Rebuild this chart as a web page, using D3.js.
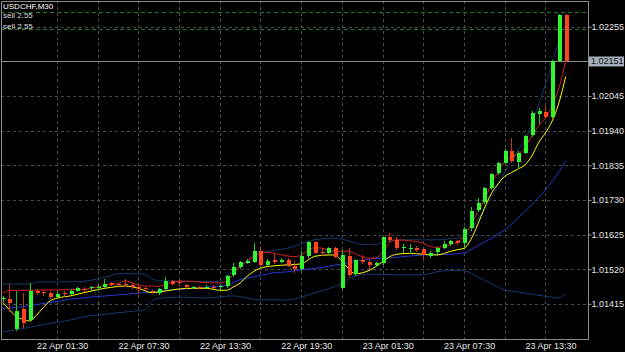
<!DOCTYPE html>
<html>
<head>
<meta charset="utf-8">
<script src="https://cdn.jsdelivr.net/npm/d3@7"></script>
<style>
body { margin: 0; background: #000; }
svg { display: block; background: #000; }
text { font-family: "Liberation Sans", Arial, sans-serif; }
</style>
</head>
<body>
<svg id="chart" width="625" height="352"></svg>
<script>
// USDCHF M30, bar 0 = 21 Apr 23:00
var symbol = "USDCHF,M30";
var firstBar = "2019-04-21T23:00:00Z";

var opens = [1.01429,1.01430,1.01338,1.01399,1.01366,1.01455,1.01451,1.01449,1.01435,1.01448,
1.01446,1.01455,1.01461,1.01462,1.01464,1.01467,1.01479,1.01475,1.01476,1.01473,
1.01465,1.01463,1.01454,1.01447,1.01460,1.01485,1.01480,1.01472,1.01464,1.01467,
1.01465,1.01467,1.01465,1.01469,1.01501,1.01526,1.01540,1.01543,1.01575,1.01532,
1.01549,1.01543,1.01549,1.01531,1.01520,1.01560,1.01601,1.01573,1.01570,1.01585,
1.01464,1.01560,1.01505,1.01548,1.01543,1.01533,1.01538,1.01616,1.01607,1.01584,
1.01582,1.01585,1.01581,1.01560,1.01571,1.01585,1.01596,1.01604,1.01599,1.01644,
1.01698,1.01725,1.01765,1.01811,1.01843,1.01879,1.01846,1.01873,1.01927,1.01991,
1.01996,1.01982,1.02151,1.02291];
var highs = [1.01439,1.01475,1.01454,1.01448,1.01479,1.01460,1.01457,1.01455,1.01452,1.01453,
1.01459,1.01466,1.01466,1.01469,1.01471,1.01490,1.01482,1.01479,1.01490,1.01477,
1.01469,1.01467,1.01457,1.01463,1.01496,1.01488,1.01488,1.01475,1.01469,1.01469,
1.01471,1.01471,1.01472,1.01503,1.01540,1.01545,1.01550,1.01599,1.01591,1.01550,
1.01570,1.01553,1.01553,1.01544,1.01575,1.01604,1.01604,1.01584,1.01588,1.01588,
1.01579,1.01584,1.01551,1.01563,1.01547,1.01541,1.01619,1.01629,1.01619,1.01596,
1.01596,1.01589,1.01583,1.01574,1.01586,1.01606,1.01609,1.01607,1.01649,1.01708,
1.01735,1.01769,1.01812,1.01845,1.01883,1.01917,1.01877,1.01928,1.02000,1.02008,
1.02018,1.02154,1.02292,1.02292];
var lows = [1.01424,1.01392,1.01336,1.01345,1.01363,1.01445,1.01442,1.01432,1.01433,1.01439,
1.01444,1.01453,1.01454,1.01457,1.01460,1.01465,1.01471,1.01469,1.01469,1.01463,
1.01449,1.01456,1.01448,1.01445,1.01459,1.01474,1.01472,1.01463,1.01462,1.01462,
1.01462,1.01463,1.01460,1.01466,1.01498,1.01524,1.01538,1.01542,1.01530,1.01530,
1.01538,1.01541,1.01529,1.01512,1.01518,1.01557,1.01568,1.01563,1.01568,1.01556,
1.01462,1.01498,1.01503,1.01538,1.01523,1.01530,1.01536,1.01604,1.01581,1.01573,
1.01568,1.01575,1.01554,1.01558,1.01569,1.01583,1.01594,1.01597,1.01589,1.01639,
1.01695,1.01722,1.01763,1.01809,1.01841,1.01845,1.01826,1.01871,1.01924,1.01962,
1.01978,1.01981,1.02150,1.02150];
var closes = [1.01434,1.01417,1.01394,1.01356,1.01454,1.01449,1.01448,1.01435,1.01446,1.01445,
1.01455,1.01463,1.01459,1.01465,1.01467,1.01476,1.01473,1.01472,1.01472,1.01466,
1.01459,1.01459,1.01451,1.01459,1.01485,1.01476,1.01477,1.01465,1.01467,1.01464,
1.01467,1.01466,1.01468,1.01500,1.01528,1.01541,1.01545,1.01575,1.01533,1.01546,
1.01543,1.01549,1.01531,1.01520,1.01560,1.01601,1.01570,1.01568,1.01585,1.01558,
1.01563,1.01503,1.01548,1.01543,1.01533,1.01538,1.01616,1.01607,1.01584,1.01587,
1.01585,1.01578,1.01563,1.01570,1.01584,1.01596,1.01604,1.01599,1.01641,1.01697,
1.01722,1.01765,1.01809,1.01841,1.01879,1.01848,1.01873,1.01924,1.01993,1.01998,
1.01982,1.02151,1.02291,1.02151];

// indicator lines, [bar, price]
var maSlow = [[0,1.01419],[1,1.01397],[2,1.01376],[3,1.01368],[4,1.01363],[5,1.01381],[6,1.01404],[7,1.01424],
[8,1.01432],[10,1.01439],[12,1.01449],[14,1.01458],[16,1.01465],[18,1.01469],[20,1.01462],[22,1.01449],
[24,1.01454],[26,1.01460],[28,1.01462],[30,1.01462],[32,1.01456],[33,1.01456],[34,1.01466],[35,1.01478],
[36,1.01498],[37,1.01513],[38,1.01523],[40,1.01530],[42,1.01533],[44,1.01536],[46,1.01559],[48,1.01563],
[49,1.01563],[50,1.01544],[51,1.01521],[52,1.01506],[54,1.01516],[56,1.01542],[57,1.01557],[58,1.01565],
[60,1.01568],[62,1.01565],[64,1.01563],[66,1.01574],[67,1.01579],[68,1.01583],[69,1.01609],[70,1.01654],
[71,1.01704],[72,1.01748],[73,1.01778],[74,1.01801],[75,1.01813],[76,1.01824],[77,1.01836],[78,1.01863],
[79,1.01903],[80,1.01933],[81,1.01969],[82,1.02024],[83,1.02104]];
var maFast = [[0,1.01447],[1,1.01455],[2,1.01456],[4,1.01456],[6,1.01457],[8,1.01457],[10,1.01458],[12,1.01459],
[14,1.01466],[16,1.01474],[17,1.01476],[18,1.01485],[19,1.01479],[20,1.01472],[21,1.01469],[22,1.01469],
[23,1.01467],[24,1.01475],[25,1.01480],[26,1.01484],[28,1.01483],[30,1.01479],[32,1.01478],[33,1.01483],
[34,1.01506],[35,1.01527],[36,1.01545],[37,1.01557],[38,1.01568],[39,1.01571],[40,1.01568],[42,1.01560],
[43,1.01558],[44,1.01563],[45,1.01577],[46,1.01585],[47,1.01584],[48,1.01578],[49,1.01574],[50,1.01575],
[51,1.01574],[52,1.01566],[54,1.01553],[55,1.01554],[56,1.01572],[57,1.01600],[58,1.01609],[60,1.01606],
[62,1.01599],[63,1.01589],[64,1.01586],[65,1.01589],[66,1.01594],[67,1.01603],[68,1.01618],[69,1.01654],
[70,1.01691],[71,1.01730],[72,1.01775],[73,1.01815],[74,1.01845],[75,1.01860],[76,1.01869],[77,1.01888],
[78,1.01924],[79,1.01954],[80,1.01978],[81,1.02015],[82,1.02069],[83,1.02150]];
var bandMid = [[0,1.01401],[3,1.01406],[5,1.01413],[7,1.01419],[10,1.01429],[14,1.01437],[17,1.01442],[20,1.01447],
[22,1.01451],[26,1.01459],[30,1.01465],[32,1.01469],[33,1.01471],[35,1.01488],[37,1.01497],[40,1.01509],
[42,1.01512],[44,1.01518],[46,1.01522],[50,1.01536],[54,1.01550],[58,1.01556],[62,1.01563],[66,1.01565],
[68,1.01569],[70,1.01591],[72,1.01613],[74,1.01639],[76,1.01676],[78,1.01715],[80,1.01760],[82,1.01815],[83,1.01848]];
var bandUp = [[0,1.01475],[4,1.01475],[5,1.01481],[11,1.01482],[15,1.01495],[17,1.01506],[20,1.01506],[21,1.01504],
[22,1.01491],[23,1.01485],[32,1.01482],[33,1.01500],[35,1.01530],[37,1.01560],[40,1.01577],[42,1.01583],
[44,1.01597],[46,1.01609],[49,1.01614],[51,1.01606],[53,1.01595],[55,1.01595],[57,1.01606],[60,1.01609],
[64,1.01609],[66,1.01612],[68,1.01618],[70,1.01669],[72,1.01736],[74,1.01812],[76,1.01881],[77,1.01912],
[78,1.01963],[80,1.02078],[82,1.02209],[83,1.02263]];
var bandLow = [[0,1.01330],[3,1.01340],[5,1.01348],[7,1.01356],[10,1.01366],[12,1.01376],[14,1.01381],[19,1.01392],
[21,1.01397],[22,1.01424],[23,1.01432],[26,1.01435],[30,1.01433],[34,1.01439],[38,1.01427],[42,1.01427],
[44,1.01435],[46,1.01448],[48,1.01460],[50,1.01476],[52,1.01500],[54,1.01505],[58,1.01503],[62,1.01503],
[64,1.01512],[66,1.01516],[68,1.01515],[70,1.01497],[72,1.01476],[74,1.01457],[76,1.01451],[78,1.01444],
[80,1.01438],[82,1.01433],[83,1.01447]];

var priceTicks = [1.01415, 1.01520, 1.01625, 1.01730, 1.01835, 1.01940, 1.02045, 1.02150, 1.02255];
var priceLabels = [1.01415, 1.01520, 1.01625, 1.01730, 1.01835, 1.01940, 1.02045, 1.02255];
var lastPrice = 1.02151;
var sellLevels = [1.02300, 1.02248];
var sellTexts = ["sell 2.55", "sell 2.55"];
var gridStart = "2019-04-22T01:30:00Z", gridEnd = "2019-04-23T16:30:00Z";
var labelTimes = ["2019-04-22T01:30:00Z", "2019-04-22T07:30:00Z", "2019-04-22T13:30:00Z", "2019-04-22T19:30:00Z",
  "2019-04-23T01:30:00Z", "2019-04-23T07:30:00Z", "2019-04-23T13:30:00Z"];

var W = 625, H = 352;
var plot = { left: 1, top: 1, right: 588, bottom: 339 };

var svg = d3.select("#chart");

var t0 = new Date(firstBar);
function barTime(i) { return d3.utcMinute.offset(t0, 30 * i); }

var x = d3.scaleUtc()
    .domain([barTime(0), barTime(opens.length - 1)])
    .range([2.7, 565.7]);
var y = d3.scaleLinear()
    .domain([1.01415, 1.02255])
    .range([303.8, 26.7]);

function px(v) { return Math.round(v) + 0.5; }

var gridTimes = d3.utcHour.every(3).range(new Date(gridStart), d3.utcMinute.offset(new Date(gridEnd), 1));

var g = svg.append("g");

// grid
g.append("g").selectAll("line")
    .data(priceTicks)
    .enter().append("line")
    .attr("x1", plot.left).attr("x2", plot.right)
    .attr("y1", function(d) { return px(y(d)); })
    .attr("y2", function(d) { return px(y(d)); })
    .attr("stroke", "#4a4a4a")
    .attr("stroke-dasharray", "3,3");

g.append("g").selectAll("line")
    .data(gridTimes)
    .enter().append("line")
    .attr("y1", plot.top).attr("y2", plot.bottom)
    .attr("x1", function(d) { return px(x(d)); })
    .attr("x2", function(d) { return px(x(d)); })
    .attr("stroke", "#4a4a4a")
    .attr("stroke-dasharray", "3,3");

// sell order lines
g.append("g").selectAll("line")
    .data(sellLevels)
    .enter().append("line")
    .attr("x1", plot.left).attr("x2", plot.right)
    .attr("y1", function(d) { return px(y(d)); })
    .attr("y2", function(d) { return px(y(d)); })
    .attr("stroke", "#1f7a1f")
    .attr("stroke-dasharray", "4,3");

// price line
g.append("line")
    .attr("x1", plot.left).attr("x2", plot.right)
    .attr("y1", px(y(lastPrice))).attr("y2", px(y(lastPrice)))
    .attr("stroke", "#8c8c8c");

// indicator lines
var line = d3.line()
    .x(function(d) { return x(barTime(d[0])); })
    .y(function(d) { return y(d[1]); })
    .curve(d3.curveMonotoneX);

var lines = [
    { data: bandUp, color: "#15386e" },
    { data: bandLow, color: "#15386e" },
    { data: bandMid, color: "#2438d0" },
    { data: maSlow, color: "#ffff00" },
    { data: maFast, color: "#d42020" }
];
lines.forEach(function(l) {
    g.append("path")
        .attr("d", line(l.data))
        .attr("fill", "none")
        .attr("stroke", l.color)
        .attr("stroke-width", 1);
});

// candles
var bars = opens.map(function(o, i) {
    return { t: barTime(i), o: o, h: highs[i], l: lows[i], c: closes[i] };
});

var candle = g.append("g").selectAll("g")
    .data(bars)
    .enter().append("g");

candle.append("line")
    .attr("x1", function(d) { return px(x(d.t)); })
    .attr("x2", function(d) { return px(x(d.t)); })
    .attr("y1", function(d) { return Math.round(y(d.h)); })
    .attr("y2", function(d) { return Math.round(y(d.l)) + 1; })
    .attr("stroke", function(d) { return d.c >= d.o ? "#22c822" : "#c8301c"; });

candle.append("rect")
    .attr("x", function(d) { return Math.round(x(d.t)) - 1; })
    .attr("width", 4)
    .attr("y", function(d) { return Math.round(y(Math.max(d.o, d.c))); })
    .attr("height", function(d) { return Math.max(1, Math.round(y(Math.min(d.o, d.c))) - Math.round(y(Math.max(d.o, d.c)))); })
    .attr("fill", function(d) { return d.c >= d.o ? "#30f530" : "#ff4422"; });

// frame
svg.append("rect")
    .attr("x", plot.left + 0.5).attr("y", plot.top + 0.5)
    .attr("width", plot.right - plot.left).attr("height", plot.bottom - plot.top)
    .attr("fill", "none")
    .attr("stroke", "#8a8a8a");

// right axis
var yAxis = d3.axisRight(y)
    .tickValues(priceLabels)
    .tickSize(3)
    .tickFormat(d3.format(".5f"));
var ya = svg.append("g")
    .attr("transform", "translate(" + (plot.right + 0.5) + ",0)")
    .call(yAxis);
ya.select(".domain").remove();
ya.selectAll(".tick line").attr("stroke", "#9a9a9a");
ya.selectAll(".tick text")
    .attr("x", 3)
    .attr("fill", "#e6e6e6")
    .style("font-size", "9px")
    .style("font-family", "'Liberation Sans', Arial, sans-serif");

// last price box
var ly = y(lastPrice);
svg.append("rect")
    .attr("x", plot.right + 1).attr("y", Math.round(ly) - 4.5)
    .attr("width", 35).attr("height", 10)
    .attr("fill", "#a3adbb");
svg.append("text")
    .attr("x", plot.right + 3).attr("y", ly)
    .attr("dy", "0.34em")
    .attr("fill", "#151515")
    .style("font-size", "9px")
    .text(d3.format(".5f")(lastPrice));

// bottom axis
var xAxis = d3.axisBottom(x)
    .tickValues(labelTimes.map(function(s) { return new Date(s); }))
    .tickSize(0)
    .tickFormat(d3.utcFormat("%d %b %H:%M"));
var xa = svg.append("g")
    .attr("transform", "translate(0," + plot.bottom + ")")
    .call(xAxis);
xa.select(".domain").remove();
xa.selectAll(".tick text")
    .attr("y", 10)
    .attr("dy", 0)
    .attr("text-anchor", "start")
    .attr("fill", "#e6e6e6")
    .style("font-size", "9px")
    .style("font-family", "'Liberation Sans', Arial, sans-serif");

// top-left labels
svg.append("text")
    .attr("x", 3).attr("y", 9)
    .attr("fill", "#ffffff")
    .style("font-size", "8px")
    .text(symbol);
svg.selectAll("text.sell")
    .data(sellLevels)
    .enter().append("text")
    .attr("class", "sell")
    .attr("x", 3)
    .attr("y", function(d, i) { return i == 0 ? 18 : 28.5; })
    .attr("fill", "#dcdcdc")
    .style("font-size", "8px")
    .text(function(d, i) { return sellTexts[i]; });
</script>
</body>
</html>
